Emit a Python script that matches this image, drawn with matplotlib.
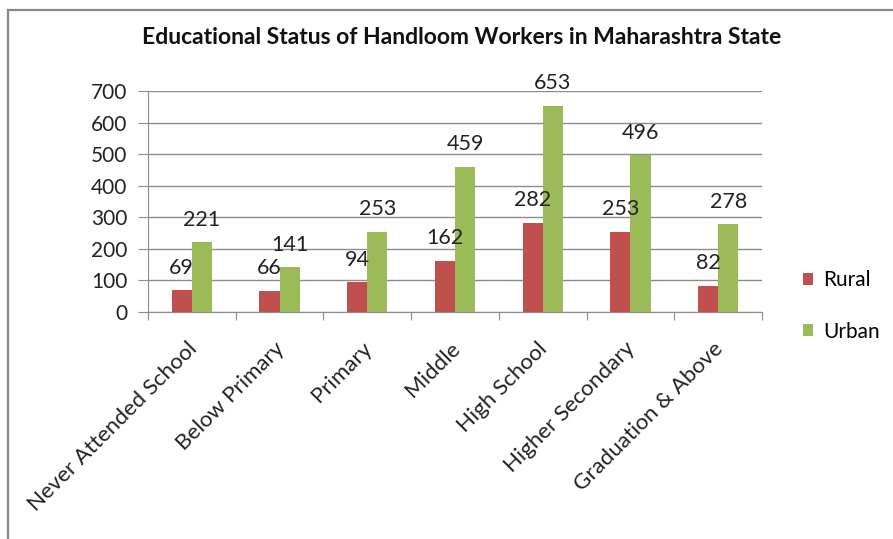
import matplotlib.pyplot as plt
import numpy as np
from matplotlib.patches import Rectangle

categories = ["Never Attended School", "Below Primary", "Primary", "Middle",
              "High School", "Higher Secondary", "Graduation & Above"]
rural = [69, 66, 94, 162, 282, 253, 82]
urban = [221, 141, 253, 459, 653, 496, 278]
y_ticks = [0, 100, 200, 300, 400, 500, 600, 700]

RURAL_COLOR = "#C0504D"
URBAN_COLOR = "#9BBB59"
GRID_COLOR = "#8C8C8C"

plt.rcParams['font.family'] = ['Lato', 'DejaVu Sans']

fig = plt.figure(figsize=(8.93, 5.39), dpi=100)
W, H = 893, 539

# outer chart border (extends past right/bottom edge like the reference)
fig.patches.append(Rectangle((8 / W, -0.1), 1.1, 1 - 10 / H + 0.1,
                             transform=fig.transFigure, fill=False,
                             edgecolor="#8A8A8A", linewidth=1.6))

ax = fig.add_axes([148 / W, 1 - 312 / H, 614 / W, 221 / H])

x = np.arange(len(categories))
bw = 0.23
b1 = ax.bar(x - bw / 2, rural, bw, color=RURAL_COLOR, label="Rural", zorder=3)
b2 = ax.bar(x + bw / 2, urban, bw, color=URBAN_COLOR, label="Urban", zorder=3)

for bars in (b1, b2):
    for rect in bars:
        h = rect.get_height()
        ax.annotate(f"{int(h)}", (rect.get_x() + rect.get_width() / 2, h),
                    xytext=(0, 12), textcoords="offset points",
                    ha="center", va="baseline", fontsize=15.5, color="#222222")

ax.set_xlim(-0.5, len(categories) - 0.5)
ax.set_ylim(0, 700)
ax.set_yticks(y_ticks)
ax.set_yticklabels([str(v) for v in y_ticks], fontsize=15, color="#222222")
ax.yaxis.grid(True, color=GRID_COLOR, linewidth=1.0, zorder=0)
ax.set_axisbelow(True)

# category ticks at boundaries, labels slightly right of centers (like Excel)
ax.set_xticks(np.arange(len(categories) + 1) - 0.5)
ax.set_xticklabels([])
ax.set_xticks(x + 0.1, minor=True)
ax.set_xticklabels(categories, minor=True, rotation=45, ha="right",
                   fontsize=16, color="#222222")
ax.tick_params(axis="x", which="minor", length=0, pad=19)
ax.tick_params(axis="x", which="major", length=6, color=GRID_COLOR)
ax.tick_params(axis="y", length=7, color=GRID_COLOR, pad=8)

for s in ("top", "right"):
    ax.spines[s].set_visible(False)
for s in ("left", "bottom"):
    ax.spines[s].set_color(GRID_COLOR)

fig.text(462 / W, 1 - 38 / H, "Educational Status of Handloom Workers in Maharashtra State",
         ha="center", va="center", fontsize=16.5, fontweight="bold", color="#111111")

leg = fig.legend(handles=[b1, b2], labels=["Rural", "Urban"],
                 loc="center left", bbox_to_anchor=(784 / W, 1 - 306 / H),
                 frameon=False, fontsize=15, handlelength=0.5, handleheight=0.5,
                 handletextpad=0.5, labelspacing=1.5)

fig.savefig("out.png", dpi=100)
